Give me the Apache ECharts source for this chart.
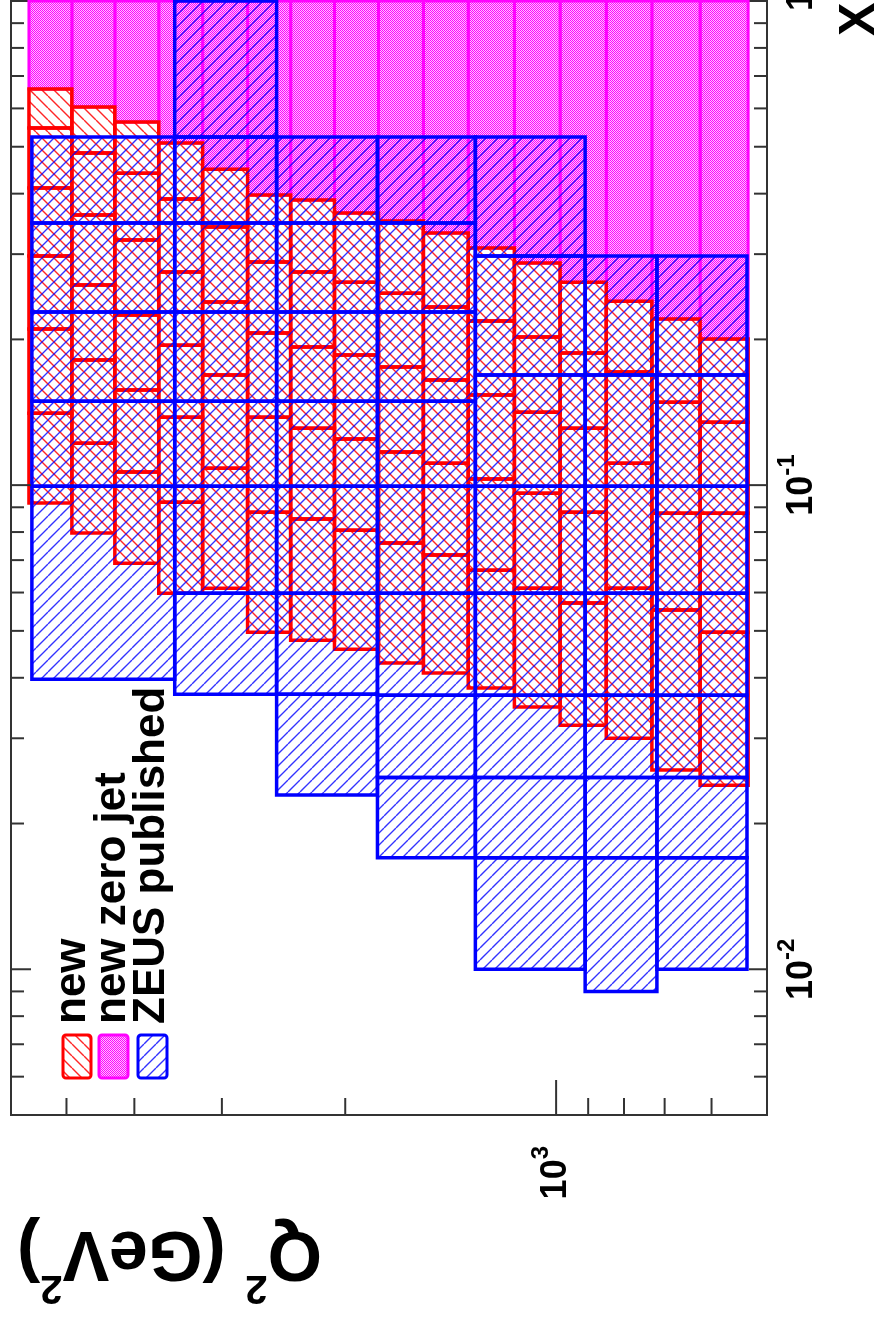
<!DOCTYPE html>
<html>
<head>
<meta charset="utf-8">
<script src="https://cdn.jsdelivr.net/npm/echarts@6/dist/echarts.min.js"></script>
<style>
html,body{margin:0;padding:0;background:#fff;}
#chart{width:879px;height:1317px;}
</style>
</head>
<body>
<div id="chart"></div>
<script>
// ---------------- data ----------------
const Q2_MIN = 500, Q2_MAX = 6000;     // Q^2 axis range (GeV^2)
const X_MIN = 0.005, X_MAX = 1;        // Bjorken x axis range

// "new" binning: Q^2 bin edges (GeV^2), low -> high
const newQ2Edges = [532, 623, 730, 848, 987, 1147, 1335, 1547, 1793, 2072, 2393, 2757, 3196, 3692, 4265, 4912, 5656];
// "new" x bin edges inside each Q^2 bin (low -> high); above the last edge is the "new zero jet" bin (up to x = 1)
const newXEdges = [
  [0.0240, 0.0497, 0.0875, 0.1349, 0.2003],
  [0.0258, 0.0552, 0.0875, 0.1484, 0.2203],
  [0.0300, 0.0612, 0.1110, 0.1712, 0.2399],
  [0.0319, 0.0571, 0.0879, 0.1311, 0.1874, 0.2626],
  [0.0348, 0.0612, 0.0962, 0.1415, 0.2022, 0.2875],
  [0.0381, 0.0667, 0.1029, 0.1535, 0.2182, 0.3088],
  [0.0409, 0.0717, 0.1110, 0.1648, 0.2332, 0.3316],
  [0.0429, 0.0759, 0.1170, 0.1753, 0.2492, 0.3511],
  [0.0458, 0.0807, 0.1245, 0.1856, 0.2626, 0.3648],
  [0.0478, 0.0851, 0.1311, 0.1928, 0.2755, 0.3880],
  [0.0497, 0.0879, 0.1381, 0.2061, 0.2889, 0.3974],
  [0.0612, 0.1084, 0.1688, 0.2388, 0.3412, 0.4494],
  [0.0598, 0.0922, 0.1381, 0.1946, 0.2755, 0.3899, 0.5087],
  [0.0690, 0.1064, 0.1572, 0.2245, 0.3207, 0.4410, 0.5623],
  [0.0796, 0.1221, 0.1813, 0.2589, 0.3613, 0.4853, 0.6040],
  [0.0918, 0.1408, 0.2101, 0.2973, 0.4108, 0.5464, 0.6580]
];
const zeroJetXUpper = 1.0;

// "ZEUS published" binning
const zeusQ2Edges = [534, 718, 909, 1304, 1799, 2506, 3503, 5602];
const zeusXEdges = [
  [0.0100, 0.0170, 0.0249, 0.0368, 0.0598, 0.0995, 0.1688, 0.2973],
  [0.0090, 0.0170, 0.0249, 0.0368, 0.0598, 0.0995, 0.1688, 0.2973],
  [0.0100, 0.0170, 0.0249, 0.0368, 0.0598, 0.0995, 0.1688, 0.2973, 0.5236],
  [0.0170, 0.0249, 0.0368, 0.0598, 0.0995, 0.1491, 0.2277, 0.3478, 0.5236],
  [0.0229, 0.0370, 0.0598, 0.0995, 0.1491, 0.2277, 0.3478, 0.5236],
  [0.0370, 0.0598, 0.0995, 0.1491, 0.2277, 0.3478, 0.5236, 1.0],
  [0.0397, 0.0995, 0.1491, 0.2277, 0.3478, 0.5236]
];

// axis ticks
const q2TickValues = [600, 700, 800, 900, 1000, 2000, 3000, 4000, 5000];
const xTickValues = [0.006, 0.007, 0.008, 0.009, 0.01, 0.02, 0.03, 0.04, 0.05, 0.06, 0.07, 0.08, 0.09,
                     0.1, 0.2, 0.3, 0.4, 0.5, 0.6, 0.7, 0.8, 0.9];

const legendLabels = ['new', 'new zero jet', 'ZEUS published'];
const xAxisTitle = 'X';

// ---------------- styling helpers ----------------
const FONT = '"Liberation Sans", Helvetica, Arial, sans-serif';
const RED = '#ff0000', BLUE = '#0000ff', MAG = '#ff00ff';

function hatch(color, dir, period, lw) {
  const c = document.createElement('canvas');
  c.width = period; c.height = period;
  const g = c.getContext('2d');
  g.strokeStyle = color; g.lineWidth = lw;
  g.beginPath();
  for (let k = -1; k <= 1; k++) {
    if (dir === '/') { g.moveTo(k * period, period); g.lineTo(k * period + period, 0); }
    else { g.moveTo(k * period, 0); g.lineTo(k * period + period, period); }
  }
  g.stroke();
  return { image: c, repeat: 'repeat' };
}
function checker(c1, c2) {
  const c = document.createElement('canvas');
  c.width = 2; c.height = 2;
  const g = c.getContext('2d');
  g.fillStyle = c2; g.fillRect(0, 0, 2, 2);
  g.fillStyle = c1; g.fillRect(0, 0, 1, 1); g.fillRect(1, 1, 1, 1);
  return { image: c, repeat: 'repeat' };
}
const redHatch = hatch('rgba(255,0,0,0.85)', '\\', 12, 1.4);
const blueHatch = hatch('rgba(0,0,255,0.8)', '/', 12, 1.4);
const magFill = checker(MAG, '#ffc4ff');

// ---------------- build boxes from the arrays ----------------
const newBoxes = [], zeroJetBoxes = [], zeusBoxes = [];
newXEdges.forEach((edges, i) => {
  const lo = newQ2Edges[i], hi = newQ2Edges[i + 1];
  for (let j = 0; j < edges.length - 1; j++) newBoxes.push([lo, hi, edges[j], edges[j + 1]]);
  zeroJetBoxes.push([lo, hi, edges[edges.length - 1], zeroJetXUpper]);
});
zeusXEdges.forEach((edges, i) => {
  const lo = zeusQ2Edges[i], hi = zeusQ2Edges[i + 1];
  for (let j = 0; j < edges.length - 1; j++) zeusBoxes.push([lo, hi, edges[j], edges[j + 1]]);
});

function boxSeries(name, data, style, z) {
  return {
    type: 'custom', name, data, z, silent: true,
    coordinateSystem: 'cartesian2d',
    encode: { x: [0, 1], y: [2, 3] },
    renderItem: function (params, api) {
      const p1 = api.coord([api.value(0), api.value(2)]);
      const p2 = api.coord([api.value(1), api.value(3)]);
      return {
        type: 'rect',
        shape: { x: Math.min(p1[0], p2[0]), y: Math.min(p1[1], p2[1]),
                 width: Math.abs(p2[0] - p1[0]), height: Math.abs(p2[1] - p1[1]) },
        style: Object.assign({}, style)
      };
    }
  };
}
function isDecade(v) { const e = Math.log10(v); return Math.abs(e - Math.round(e)) < 1e-6; }
function tickSeries(data, side, majorLen, minorLen) {
  return {
    type: 'custom', data, z: 10, silent: true,
    coordinateSystem: 'cartesian2d',
    encode: { x: 0, y: 1 },
    renderItem: function (params, api) {
      const p = api.coord([api.value(0), api.value(1)]);
      const v = side === 'bottom' ? api.value(0) : api.value(1);
      const len = isDecade(v) ? majorLen : minorLen;
      let x2 = p[0], y2 = p[1];
      if (side === 'right') x2 -= len;
      else if (side === 'left') x2 += len;
      else y2 -= len;
      return { type: 'line', shape: { x1: p[0], y1: p[1], x2, y2 },
               style: { stroke: '#333', lineWidth: 2 } };
    }
  };
}
function powLabel(v) {
  if (!isDecade(v)) return '';
  const e = Math.round(Math.log10(v));
  if (e === 0) return '{b|1}';
  return '{b|10}{s|' + e + '}';
}
const labelRich = {
  b: { fontSize: 36, fontWeight: 'bold', fontFamily: FONT, color: '#000', lineHeight: 54 },
  s: { fontSize: 24, fontWeight: 'bold', fontFamily: FONT, color: '#000', lineHeight: 24, verticalAlign: 'top' }
};

const chart = echarts.init(document.getElementById('chart'), null, { renderer: 'canvas' });
const option = {
  animation: false,
  backgroundColor: '#fff',
  grid: {
    left: 11, right: 112, top: 1, bottom: 202,
    show: true, borderColor: '#333', borderWidth: 2, backgroundColor: 'transparent',
    containLabel: false, outerBoundsMode: 'none'
  },
  xAxis: {
    type: 'log', logBase: 10, min: Q2_MIN, max: Q2_MAX, inverse: true, position: 'bottom',
    axisLine: { show: false }, axisTick: { show: false }, splitLine: { show: false },
    axisLabel: { show: true, rotate: 90, margin: 31, formatter: powLabel, rich: labelRich,
                 showMinLabel: true, showMaxLabel: true, hideOverlap: false }
  },
  yAxis: {
    type: 'log', logBase: 10, min: X_MIN, max: X_MAX, position: 'right',
    axisLine: { show: false }, axisTick: { show: false }, splitLine: { show: false },
    axisLabel: { show: true, rotate: 90, margin: 8, formatter: powLabel, rich: labelRich,
                 showMinLabel: true, showMaxLabel: true, hideOverlap: false }
  },
  series: [
    boxSeries('new zero jet', zeroJetBoxes, { fill: magFill, stroke: MAG, lineWidth: 3 }, 2),
    boxSeries('new', newBoxes, { fill: redHatch, stroke: RED, lineWidth: 3.5 }, 3),
    boxSeries('ZEUS published', zeusBoxes, { fill: blueHatch, stroke: BLUE, lineWidth: 3.5 }, 4),
    tickSeries(xTickValues.map(v => [Q2_MIN, v]), 'right', 18, 13),
    tickSeries(xTickValues.map(v => [Q2_MAX, v]), 'left', 20, 13),
    tickSeries(q2TickValues.map(v => [v, X_MIN]), 'bottom', 35, 17)
  ],
  graphic: [
    // legend symbols
    { type: 'rect', shape: { x: 63, y: 1035, width: 28, height: 43, r: 3 }, style: { fill: redHatch, stroke: RED, lineWidth: 3 } },
    { type: 'rect', shape: { x: 99, y: 1035, width: 29, height: 43, r: 3 }, style: { fill: magFill, stroke: MAG, lineWidth: 3 } },
    { type: 'rect', shape: { x: 138, y: 1035, width: 29, height: 43, r: 3 }, style: { fill: blueHatch, stroke: BLUE, lineWidth: 3 } },
    // legend texts
    { type: 'text', x: 73, y: 1024, rotation: Math.PI / 2,
      style: { text: legendLabels[0], font: 'bold 44px ' + FONT, fill: '#000', align: 'left', verticalAlign: 'middle', textAlign: 'left', textVerticalAlign: 'middle' } },
    { type: 'text', x: 113, y: 1024, rotation: Math.PI / 2,
      style: { text: legendLabels[1], font: 'bold 44px ' + FONT, fill: '#000', align: 'left', verticalAlign: 'middle', textAlign: 'left', textVerticalAlign: 'middle' } },
    { type: 'text', x: 152, y: 1024, rotation: Math.PI / 2,
      style: { text: legendLabels[2], font: 'bold 44px ' + FONT, fill: '#000', align: 'left', verticalAlign: 'middle', textAlign: 'left', textVerticalAlign: 'middle' } },
    // axis titles
    { type: 'text', x: 860, y: 36, rotation: Math.PI / 2,
      style: { text: xAxisTitle, font: 'bold 50px ' + FONT, fill: '#000', align: 'left', verticalAlign: 'middle', textAlign: 'left', textVerticalAlign: 'middle' } },
    { type: 'text', x: 322, y: 1196, rotation: Math.PI,
      style: { text: '{q|Q}{s|2}{q| (GeV}{s|2}{q|)}', align: 'left', verticalAlign: 'bottom', textAlign: 'left', textVerticalAlign: 'bottom',
        rich: {
          q: { fontSize: 70, fontWeight: 'bold', fontFamily: FONT, fill: '#000', color: '#000', lineHeight: 111 },
          s: { fontSize: 40, fontWeight: 'bold', fontFamily: FONT, fill: '#000', color: '#000', lineHeight: 40, verticalAlign: 'top' }
        } } }
  ]
};
chart.setOption(option);
</script>
</body>
</html>
